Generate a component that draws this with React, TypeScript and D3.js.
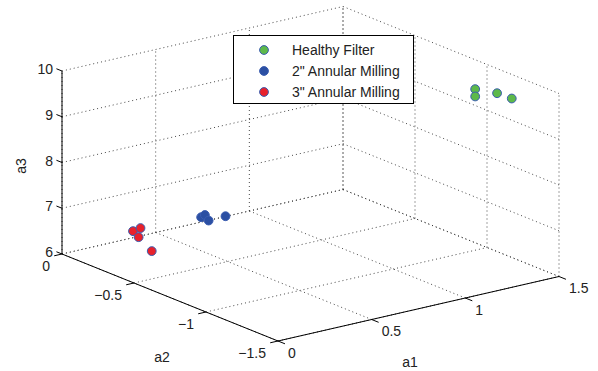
import * as d3 from "d3";

const width = 598;
const height = 371;

// 3D axis ticks
const a1Ticks = [0, 0.5, 1, 1.5];
const a2Ticks = [0, -0.5, -1, -1.5];
const a3Ticks = [6, 7, 8, 9, 10];

// series
const healthyA1 = [1.36, 1.36, 1.4, 1.44];
const healthyA2 = [-1.1, -1.1, -1.2, -1.25];
const healthyA3 = [9.72, 9.56, 9.72, 9.63];

const mill2A1 = [0.32, 0.34, 0.36, 0.45];
const mill2A2 = [-0.55, -0.55, -0.55, -0.55];
const mill2A3 = [7.2, 7.23, 7.09, 7.1];

const mill3A1 = [0.11, 0.15, 0.14, 0.21];
const mill3A2 = [-0.35, -0.35, -0.35, -0.35];
const mill3A3 = [6.84, 6.87, 6.68, 6.31];

const seriesNames = ["Healthy Filter", '2" Annular Milling', '3" Annular Milling'];
const seriesColors = ["#5db94a", "#2b4fa3", "#e8212b"];

type P3 = [number, number, number];

// normalised cube coordinates
const s1 = d3.scaleLinear().domain([0, 1.5]).range([0, 1]);
const s2 = d3.scaleLinear().domain([0, -1.5]).range([0, 1]);
const s3 = d3.scaleLinear().domain([6, 10]).range([0, 1]);

// screen basis of the orthographic view
const origin = { x: 62, y: 254 };
const ex = { x: 281, y: -64.5 };
const ey = { x: 216, y: 87 };
const ez = { x: 0, y: -183 };

const project = ([a1, a2, a3]: P3) => {
  const u = s1(a1);
  const v = s2(a2);
  const w = s3(a3);
  return {
    x: origin.x + u * ex.x + v * ey.x + w * ez.x,
    y: origin.y + u * ex.y + v * ey.y + w * ez.y,
  };
};

const unit = (p: { x: number; y: number }, k: number) => {
  const len = Math.hypot(p.x, p.y);
  return { x: (p.x / len) * k, y: (p.y / len) * k };
};

const fmt = d3.format("~g");
const font = "'Liberation Sans', Arial, Helvetica, sans-serif";

export default function App() {
  const a1Lo = a1Ticks[0];
  const a1Hi = a1Ticks[a1Ticks.length - 1];
  const a2Lo = a2Ticks[a2Ticks.length - 1];
  const a2Hi = a2Ticks[0];
  const a3Lo = a3Ticks[0];
  const a3Hi = a3Ticks[a3Ticks.length - 1];

  // dotted grid on the back walls and the floor
  const grid: [P3, P3][] = [];
  a3Ticks.forEach((z) => {
    grid.push([[a1Lo, a2Hi, z], [a1Hi, a2Hi, z]]);
    grid.push([[a1Hi, a2Hi, z], [a1Hi, a2Lo, z]]);
  });
  a1Ticks.forEach((a) => {
    grid.push([[a, a2Hi, a3Lo], [a, a2Hi, a3Hi]]);
    grid.push([[a, a2Hi, a3Lo], [a, a2Lo, a3Lo]]);
  });
  a2Ticks.forEach((b) => {
    grid.push([[a1Hi, b, a3Lo], [a1Hi, b, a3Hi]]);
    grid.push([[a1Lo, b, a3Lo], [a1Hi, b, a3Lo]]);
  });

  const axes: [P3, P3][] = [
    [[a1Lo, a2Hi, a3Lo], [a1Lo, a2Hi, a3Hi]],
    [[a1Lo, a2Hi, a3Lo], [a1Lo, a2Lo, a3Lo]],
    [[a1Lo, a2Lo, a3Lo], [a1Hi, a2Lo, a3Lo]],
  ];

  const zTickDir = unit({ x: -ey.x, y: -ey.y }, 6);
  const a2TickDir = unit({ x: -ex.x, y: -ex.y }, 8);
  const a1TickDir = unit(ey, 7.5);

  const series = [
    { a1: healthyA1, a2: healthyA2, a3: healthyA3 },
    { a1: mill2A1, a2: mill2A2, a3: mill2A3 },
    { a1: mill3A1, a2: mill3A2, a3: mill3A3 },
  ];

  const seg = (pair: [P3, P3]) => {
    const p = project(pair[0]);
    const q = project(pair[1]);
    return { x1: p.x, y1: p.y, x2: q.x, y2: q.y };
  };

  return (
    <svg
      width={width}
      height={height}
      style={{ position: "absolute", left: 0, top: 0, background: "#fff" }}
      fontFamily={font}
      fontSize={14}
    >
      <g className="grid">
        {grid.map((g, i) => (
          <line key={i} {...seg(g)} stroke="#333" strokeWidth={0.9} strokeDasharray="1 3" />
        ))}
      </g>

      <g className="axes">
        {axes.map((a, i) => (
          <line key={i} {...seg(a)} stroke="#000" strokeWidth={1} />
        ))}
        {a3Ticks.map((z) => {
          const p = project([a1Lo, a2Hi, z]);
          return (
            <g key={`z${z}`}>
              <line x1={p.x} y1={p.y} x2={p.x + zTickDir.x} y2={p.y + zTickDir.y} stroke="#000" />
              <text x={p.x - 9} y={p.y - 2} textAnchor="end" dominantBaseline="central" fill="#222">
                {fmt(z)}
              </text>
            </g>
          );
        })}
        {a2Ticks.map((b) => {
          const p = project([a1Lo, b, a3Lo]);
          return (
            <g key={`b${b}`}>
              <line x1={p.x} y1={p.y} x2={p.x + a2TickDir.x} y2={p.y + a2TickDir.y} stroke="#000" />
              <text x={p.x - 12} y={p.y + 12} textAnchor="end" dominantBaseline="central" fill="#222">
                {fmt(b)}
              </text>
            </g>
          );
        })}
        {a1Ticks.map((a) => {
          const p = project([a, a2Lo, a3Lo]);
          return (
            <g key={`a${a}`}>
              <line x1={p.x} y1={p.y} x2={p.x + a1TickDir.x} y2={p.y + a1TickDir.y} stroke="#000" />
              <text x={p.x + 10} y={p.y + 11.5} textAnchor="start" dominantBaseline="central" fill="#222">
                {fmt(a)}
              </text>
            </g>
          );
        })}
        <text x={162} y={357} textAnchor="middle" dominantBaseline="central" fill="#222">
          a2
        </text>
        <text x={410} y={362} textAnchor="middle" dominantBaseline="central" fill="#222">
          a1
        </text>
        <text
          transform="translate(21,166) rotate(-90)"
          textAnchor="middle"
          dominantBaseline="central"
          fill="#222"
        >
          a3
        </text>
      </g>

      <g className="points">
        {series.map((s, si) =>
          s.a1.map((_, i) => {
            const p = project([s.a1[i], s.a2[i], s.a3[i]]);
            return (
              <circle
                key={`${si}-${i}`}
                cx={p.x}
                cy={p.y}
                r={4.4}
                fill={seriesColors[si]}
                stroke="#3a5cb0"
                strokeWidth={1}
              />
            );
          }),
        )}
      </g>

      <g className="legend">
        <rect x={233.5} y={35.5} width={180} height={68} fill="#fff" stroke="#000" strokeWidth={1} />
        {seriesNames.map((name, i) => (
          <g key={name} transform={`translate(0, ${50 + i * 21})`}>
            <circle cx={264} cy={0} r={4.4} fill={seriesColors[i]} stroke="#3a5cb0" strokeWidth={1} />
            <text x={292} y={0} dominantBaseline="central" fill="#222">
              {name}
            </text>
          </g>
        ))}
      </g>
    </svg>
  );
}
